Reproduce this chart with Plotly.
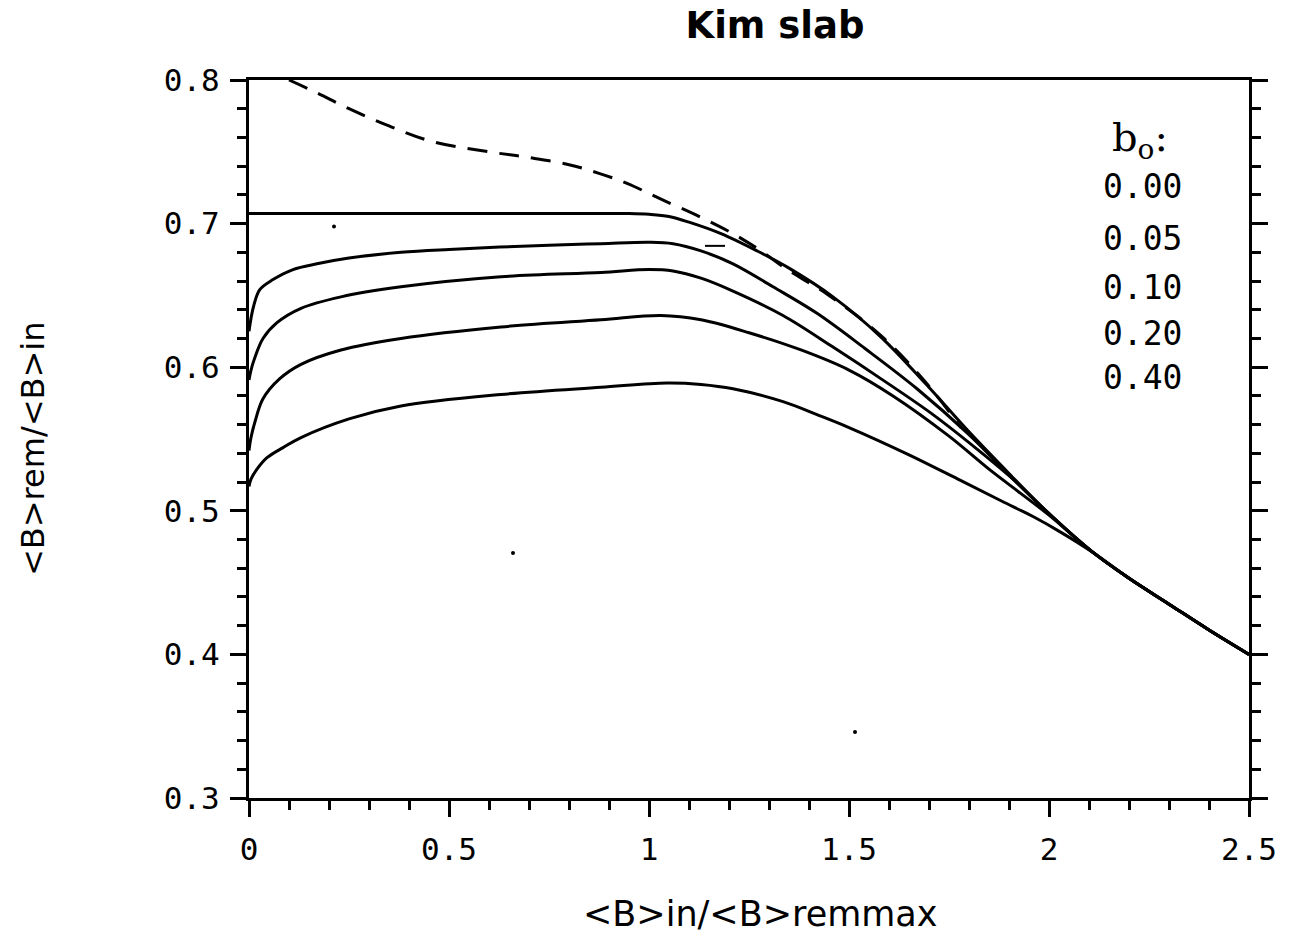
import plotly.graph_objects as go

# ---- data ----
b0_labels = ["0.00", "0.05", "0.10", "0.20", "0.40"]

# merged tail shared by all curves (x > ~2.1)
tail_x = [2.2, 2.3, 2.4, 2.5]
tail_y = [0.453, 0.435, 0.417, 0.400]

x_b000 = [0.0, 0.5, 0.95, 1.0, 1.05, 1.10, 1.18, 1.27, 1.35, 1.46, 1.58, 1.69, 1.80, 1.90, 2.0, 2.11]
y_b000 = [0.707, 0.707, 0.707, 0.7065, 0.705, 0.701, 0.693, 0.681, 0.669, 0.649, 0.621, 0.589, 0.555, 0.526, 0.498, 0.471]

x_b005 = [0.0, 0.005, 0.012, 0.027, 0.06, 0.11, 0.17, 0.25, 0.38, 0.5, 0.75, 0.88, 1.0, 1.06, 1.13, 1.21, 1.31, 1.42, 1.54, 1.67, 1.80, 1.90, 2.0, 2.11]
y_b005 = [0.625, 0.634, 0.643, 0.654, 0.661, 0.668, 0.672, 0.676, 0.680, 0.682, 0.685, 0.686, 0.687, 0.686, 0.681, 0.672, 0.656, 0.6375, 0.613, 0.585, 0.553, 0.525, 0.498, 0.471]

x_b010 = [0.0, 0.005, 0.015, 0.035, 0.07, 0.13, 0.23, 0.38, 0.63, 0.88, 1.0, 1.06, 1.13, 1.21, 1.335, 1.46, 1.585, 1.71, 1.82, 1.91, 2.0, 2.11]
y_b010 = [0.591, 0.598, 0.607, 0.620, 0.631, 0.641, 0.649, 0.656, 0.663, 0.666, 0.668, 0.667, 0.662, 0.653, 0.636, 0.614, 0.591, 0.567, 0.543, 0.522, 0.498, 0.471]

x_b020 = [0.0, 0.005, 0.015, 0.035, 0.077, 0.13, 0.23, 0.38, 0.63, 0.88, 1.03, 1.13, 1.25, 1.38, 1.50, 1.61, 1.75, 1.85, 1.93, 2.0, 2.11]
y_b020 = [0.542, 0.551, 0.562, 0.578, 0.592, 0.602, 0.612, 0.620, 0.628, 0.633, 0.636, 0.633, 0.624, 0.612, 0.598, 0.580, 0.552, 0.529, 0.512, 0.497, 0.471]

x_b040 = [0.0, 0.005, 0.02, 0.045, 0.085, 0.13, 0.25, 0.38, 0.63, 0.88, 1.045, 1.13, 1.21, 1.335, 1.42, 1.50, 1.65, 1.78, 1.88, 1.96, 2.03, 2.11]
y_b040 = [0.517, 0.522, 0.529, 0.537, 0.544, 0.551, 0.564, 0.573, 0.581, 0.586, 0.589, 0.588, 0.585, 0.576, 0.567, 0.558, 0.539, 0.521, 0.507, 0.496, 0.485, 0.471]

# dashed upper envelope
x_dash = [0.10, 0.17, 0.25, 0.35, 0.46, 0.60, 0.70, 0.80, 0.875, 0.945, 1.03, 1.125, 1.21, 1.28, 1.34, 1.45, 1.58, 1.69, 1.78]
y_dash = [0.800, 0.791, 0.780, 0.768, 0.757, 0.750, 0.746, 0.741, 0.735, 0.728, 0.717, 0.705, 0.693, 0.681, 0.669, 0.650, 0.622, 0.590, 0.558]

# stray marks visible in the scan
stray_dash_x = [1.14, 1.19]
stray_dash_y = [0.6845, 0.6845]
stray_dot_x = [0.2125, 0.66, 1.515]
stray_dot_y = [0.698, 0.4706, 0.346]

curves = [(x_b000, y_b000), (x_b005, y_b005), (x_b010, y_b010), (x_b020, y_b020), (x_b040, y_b040)]

fig = go.Figure()
for (xs, ys), lab in zip(curves, b0_labels):
    fig.add_trace(go.Scatter(x=xs + tail_x, y=ys + tail_y, mode="lines",
                             line=dict(color="black", width=3, shape="spline", smoothing=1.0),
                             name=lab, showlegend=False, hoverinfo="skip"))

fig.add_trace(go.Scatter(x=x_dash, y=y_dash, mode="lines",
                         line=dict(color="black", width=3, dash="20px,12px", shape="spline", smoothing=1.0),
                         showlegend=False, hoverinfo="skip"))
fig.add_trace(go.Scatter(x=stray_dash_x, y=stray_dash_y, mode="lines",
                         line=dict(color="black", width=2), showlegend=False, hoverinfo="skip"))
fig.add_trace(go.Scatter(x=stray_dot_x, y=stray_dot_y, mode="markers",
                         marker=dict(color="black", size=4), showlegend=False, hoverinfo="skip"))
# invisible trace to activate right axis
fig.add_trace(go.Scatter(x=[0], y=[0.5], yaxis="y2", mode="markers",
                         marker=dict(opacity=0), showlegend=False, hoverinfo="skip"))

tickfont = dict(family="DejaVu Sans Mono", size=31, color="black")

fig.update_layout(
    width=1303, height=938,
    margin=dict(l=249, r=54, t=80, b=140),
    paper_bgcolor="white", plot_bgcolor="white",
    showlegend=False,
    title=dict(text="<b>Kim slab</b>", xref="container", yref="container",
               x=775 / 1303, y=1 - 25 / 938, xanchor="center", yanchor="middle",
               font=dict(family="DejaVu Sans", size=37, color="black")),
    xaxis=dict(range=[0, 2.5], dtick=0.5, tick0=0, showgrid=False, zeroline=False,
               showline=True, linecolor="black", linewidth=3, mirror=True,
               ticks="outside", ticklen=16, tickwidth=3, tickcolor="black",
               tickfont=tickfont, ticklabelstandoff=6,
               minor=dict(dtick=0.1, tick0=0, ticks="outside", ticklen=9, tickwidth=3,
                          tickcolor="black", showgrid=False)),
    yaxis=dict(range=[0.3, 0.8], dtick=0.1, tick0=0.3, showgrid=False, zeroline=False,
               showline=True, linecolor="black", linewidth=3, mirror=True,
               ticks="outside", ticklen=16, tickwidth=3, tickcolor="black",
               tickfont=tickfont, ticklabelstandoff=4,
               minor=dict(dtick=0.02, tick0=0.3, ticks="outside", ticklen=9, tickwidth=3,
                          tickcolor="black", showgrid=False)),
    yaxis2=dict(range=[0.3, 0.8], dtick=0.1, tick0=0.3, overlaying="y", side="right",
                showgrid=False, zeroline=False, showline=True, linecolor="black", linewidth=3,
                ticks="outside", ticklen=16, tickwidth=3, tickcolor="black",
                showticklabels=False,
                minor=dict(dtick=0.02, tick0=0.3, ticks="outside", ticklen=9, tickwidth=3,
                           tickcolor="black", showgrid=False)),
)

annots = []
annots.append(dict(text="&lt;B&gt;in/&lt;B&gt;remmax", xref="paper", yref="paper",
                   x=(760 - 249) / 1000, y=(798 - 914) / 718, xanchor="center", yanchor="middle",
                   showarrow=False, font=dict(family="DejaVu Sans", size=35, color="black")))
annots.append(dict(text="&lt;B&gt;rem/&lt;B&gt;in", xref="paper", yref="paper",
                   x=(33 - 249) / 1000, y=(798 - 449) / 718, xanchor="center", yanchor="middle",
                   textangle=-90, showarrow=False,
                   font=dict(family="DejaVu Sans", size=32, color="black")))
annots.append(dict(text="b<sub>o</sub>:", xref="paper", yref="paper",
                   x=(1140 - 249) / 1000, y=(798 - 140) / 718, xanchor="center", yanchor="middle",
                   showarrow=False, font=dict(family="DejaVu Serif", size=40, color="black")))
label_y_px = [187, 238, 287, 333, 377]
for lab, py in zip(b0_labels, label_y_px):
    annots.append(dict(text=lab, xref="paper", yref="paper",
                       x=(1142 - 249) / 1000, y=(798 - py) / 718, xanchor="center", yanchor="middle",
                       showarrow=False, font=dict(family="DejaVu Sans Mono", size=33, color="black")))
fig.update_layout(annotations=annots)

fig.write_html("out.html")
